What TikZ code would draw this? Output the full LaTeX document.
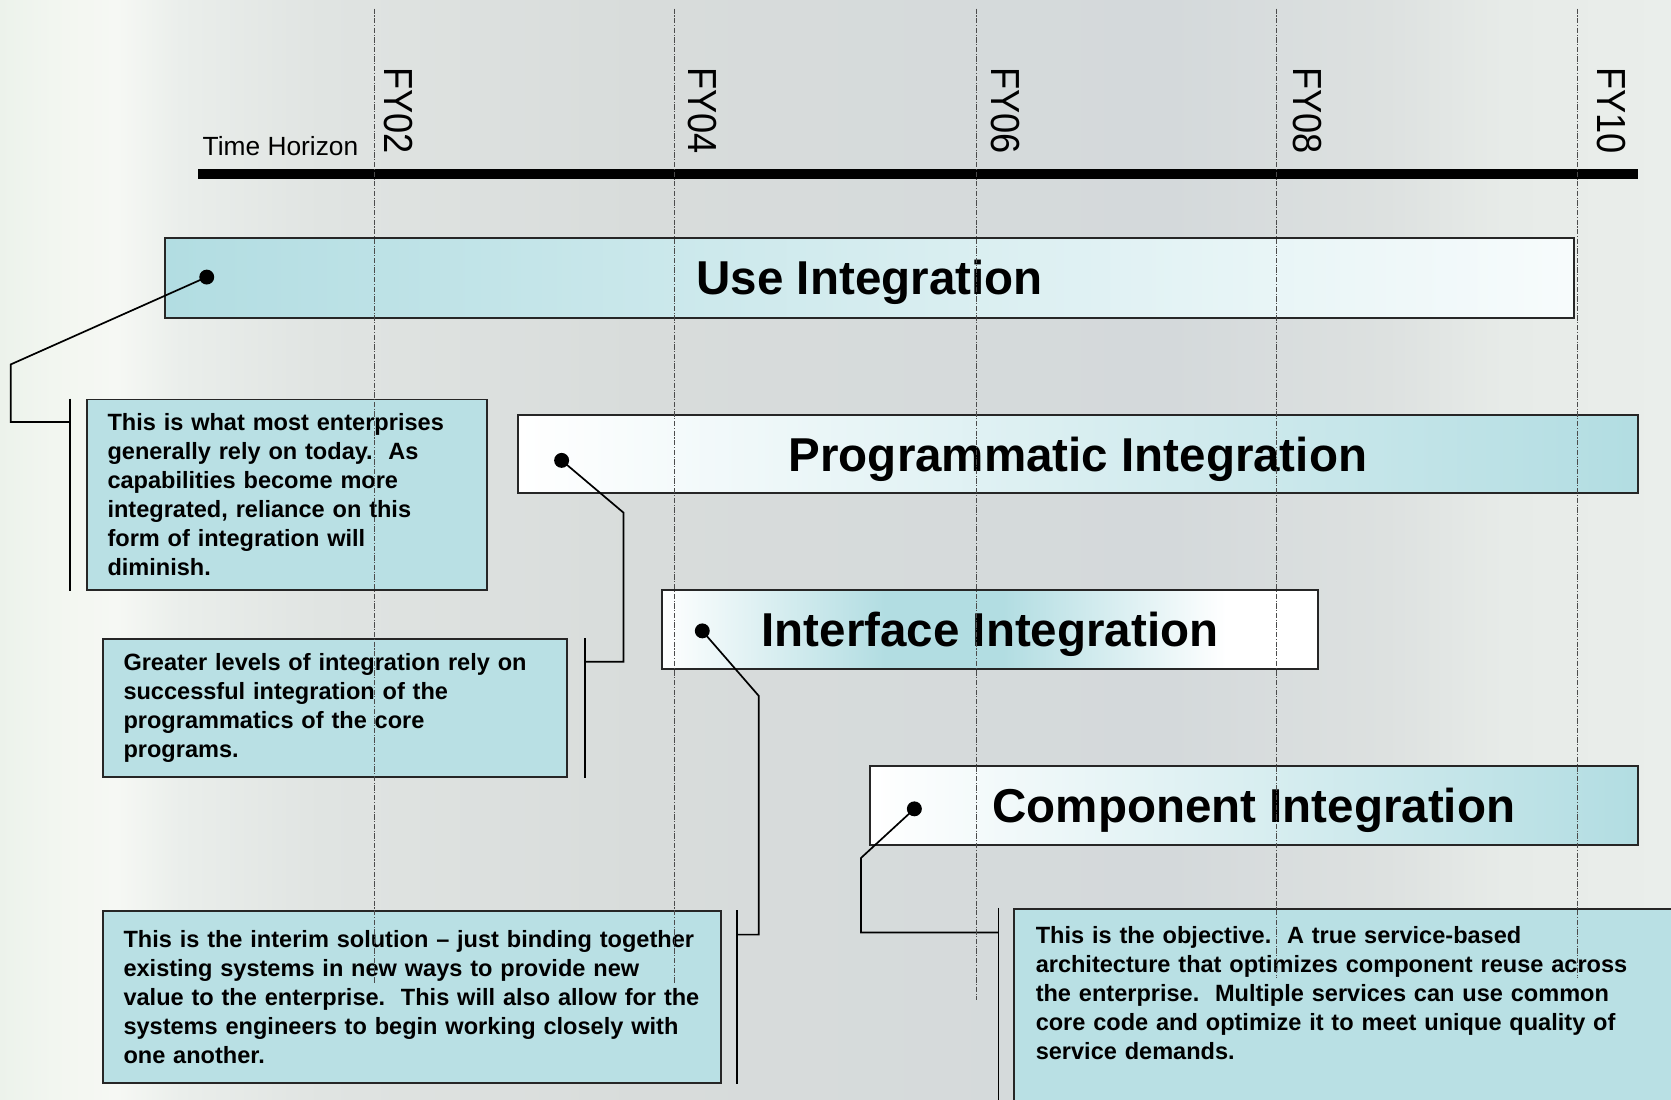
\documentclass[tikz,border=0pt]{standalone}
\usepackage{fontspec}
\setmainfont{Liberation Sans}
\usetikzlibrary{calc}
\definecolor{barblue}{RGB}{178,221,226}
\definecolor{boxblue}{RGB}{185,224,228}
\definecolor{bgA}{RGB}{236,242,235}
\definecolor{bgB}{RGB}{242,246,240}
\definecolor{bgC}{RGB}{246,248,244}
\definecolor{bgD}{RGB}{234,238,235}
\definecolor{bgE}{RGB}{224,228,226}
\definecolor{bgF}{RGB}{216,220,219}
\definecolor{bgG}{RGB}{212,217,219}
\definecolor{bgH}{RGB}{221,225,224}
\definecolor{bgI}{RGB}{231,235,232}
\definecolor{bgJ}{RGB}{234,238,235}
\pgfdeclarehorizontalshading{bgshade}{100bp}{color(0bp)=(bgA); color(25bp)=(bgA); color(26.6bp)=(bgB); color(28.5bp)=(bgC); color(30.4bp)=(bgD); color(34.6bp)=(bgE); color(44.1bp)=(bgF); color(60bp)=(bgG); color(66.5bp)=(bgH); color(70bp)=(bgI); color(75bp)=(bgJ); color(100bp)=(bgJ)}
\pgfdeclarehorizontalshading{ifshade}{100bp}{color(0bp)=(white); color(25bp)=(white); color(42bp)=(barblue); color(51bp)=(barblue); color(68bp)=(white); color(100bp)=(white)}
\begin{document}
\begin{tikzpicture}[x=1pt,y=-1pt,
  bar/.style={draw=black!85, line width=1.8pt, minimum height=75pt, inner sep=0pt,
    font=\fontsize{44.6}{50}\selectfont\bfseries, text height=32pt, text depth=0pt},
  callout/.style={draw=black!85, line width=1.8pt, fill=boxblue, anchor=north west, align=left,
    inner xsep=19pt, font=\fontsize{22.1}{27.2}\selectfont\bfseries},
  conn/.style={line width=1.6pt, black},
  dot/.style={circle, fill=black, inner sep=0pt, minimum size=14pt},
  fyline/.style={line width=0.7pt, black!70, dash pattern=on 5pt off 1.5pt on 1pt off 1.5pt},
  fylabel/.style={rotate=-90, anchor=base west, inner sep=0pt, font=\fontsize{34}{40}\selectfont},
]
\useasboundingbox (0,0) rectangle (1568,1032);
\clip (0,0) rectangle (1568,1032);
\fill[shading=bgshade] (0,0) rectangle (1568,1032);

% time axis
\coordinate (tl) at (186,163);
\coordinate (tr) at (1537,163);
\draw[line width=9pt] (tl) -- (tr);
\node[anchor=base west, inner sep=0pt, font=\fontsize{24.7}{30}\selectfont] (th) at (190,146) {Time Horizon};
\node[fylabel] (fy02) at (361,63) {\scalebox{1}[1.12]{FY02}};
\node[fylabel] (fy04) at (646,63) {\scalebox{1}[1.12]{FY04}};
\node[fylabel] (fy06) at (930,63) {\scalebox{1}[1.12]{FY06}};
\node[fylabel] (fy08) at (1214,63) {\scalebox{1}[1.12]{FY08}};
\node[fylabel] (fy10) at (1499,63) {\scalebox{1}[1.12]{FY10}};

% bars
\node[bar, minimum width=1322pt, left color=barblue, right color=white!90!barblue] (use) at (816,260.5) {Use Integration};
\node[bar, minimum width=1051pt, minimum height=74pt, left color=white, right color=barblue] (prog) at (1011.5,426) {Programmatic Integration};
\node[bar, minimum width=616pt, minimum height=74pt, shading=ifshade] (iface) at (929,591) {Interface Integration};
\node[bar, minimum width=721pt, minimum height=74pt, left color=white, right color=barblue] (comp) at (1176.5,756) {Component Integration};

% callouts
\node[callout, text width=337pt, minimum width=375pt, minimum height=179pt] (c1) at (81,374)
 {\mbox{This is what most enterprises}\\\mbox{generally rely on today.\ \ As}\\\mbox{capabilities become more}\\\mbox{integrated, reliance on this}\\\mbox{form of integration will}\\\mbox{diminish.}};
\node[callout, text width=397pt, minimum width=435pt, minimum height=129pt] (c2) at (96,599)
 {\mbox{Greater levels of integration rely on}\\\mbox{successful integration of the}\\\mbox{programmatics of the core}\\\mbox{programs.}};
\node[callout, text width=542pt, minimum width=580pt, minimum height=161pt] (c3) at (96,854)
 {\mbox{This is the interim solution \textendash{} just binding together}\\\mbox{existing systems in new ways to provide new}\\\mbox{value to the enterprise.\ \ This will also allow for the}\\\mbox{systems engineers to begin working closely with}\\\mbox{one another.}};
\node[callout, text width=600pt, inner xsep=20pt, inner ysep=16.6pt] (c4) at (951,852)
 {\mbox{This is the objective.\ \ A true service-based}\\\mbox{architecture that optimizes component reuse across}\\\mbox{the enterprise.\ \ Multiple services can use common}\\\mbox{core code and optimize it to meet unique quality of}\\\mbox{service demands.}\rule[-60pt]{0pt}{0pt}};

% dots
\node[dot] (d1) at (194,260) {};
\node[dot] (d2) at (527,432) {};
\node[dot] (d3) at (659,592) {};
\node[dot] (d4) at (858,759) {};

% brackets
\coordinate (b1t) at ([xshift=-15pt]c1.north west);
\coordinate (b1b) at ([xshift=-15pt]c1.south west);
\coordinate (b2t) at ([xshift=16pt]c2.north east);
\coordinate (b2b) at ([xshift=16pt]c2.south east);
\coordinate (b3t) at ([xshift=14pt]c3.north east);
\coordinate (b3b) at ([xshift=14pt]c3.south east);
\coordinate (b4t) at ([xshift=-14pt]c4.north west);
\coordinate (b4b) at ([xshift=-14pt]c4.south west);
\draw[conn] (b1t) -- (b1b);
\draw[conn] (b2t) -- (b2b);
\draw[conn] (b3t) -- (b3b);
\draw[conn] (b4t) -- (b4b);

% bends
\coordinate (k1a) at (10,342);
\coordinate (k1b) at (10,396);
\coordinate (k2a) at (585,481);
\coordinate (k2b) at (585,621);
\coordinate (k3a) at (712,653);
\coordinate (k3b) at (712,877);
\coordinate (k4a) at (808,805);
\coordinate (k4b) at (808,875);
\draw[conn] (d1.center) -- (k1a) -- (k1b) -- (k1b -| b1t);
\draw[conn] (d2.center) -- (k2a) -- (k2b) -- (k2b -| b2t);
\draw[conn] (d3.center) -- (k3a) -- (k3b) -- (k3b -| b3t);
\draw[conn] (d4.center) -- (k4a) -- (k4b) -- (k4b -| b4t);

% year lines
\draw[fyline] (351,8) -- (351,922);
\draw[fyline] (633,8) -- (633,922);
\draw[fyline] (916,8) -- (916,938);
\draw[fyline] (1198,8) -- (1198,918);
\draw[fyline] (1480,8) -- (1480,918);
\end{tikzpicture}
\end{document}
